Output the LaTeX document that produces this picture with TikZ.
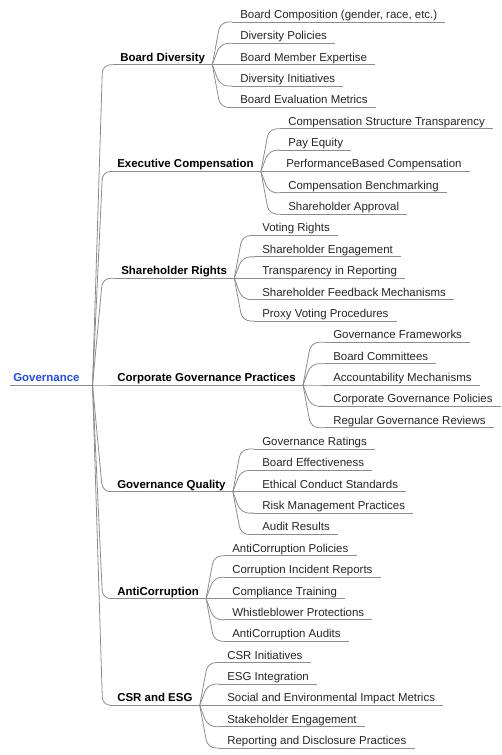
\documentclass[tikz,border=0pt]{standalone}
\usepackage{fontspec}
\setmainfont{Liberation Sans}
\usepackage{tikz}

\definecolor{rootblue}{RGB}{30,75,255}
\definecolor{linegray}{RGB}{140,140,140}

\begin{document}
\begin{tikzpicture}[
    x=0.75pt, y=-0.75pt,
    branch/.style={draw=linegray, line width=0.6pt, rounded corners=6pt},
    topic/.style={anchor=south west, inner xsep=6pt, inner ysep=0.45pt, text height=0.72em, text depth=0.2em, font=\fontsize{8.6}{10}\selectfont, text=black!85,
        append after command={(\tikzlastnode.south west) edge[branch] (\tikzlastnode.south east)}},
    maintopic/.style={topic, inner xsep=5.25pt, font=\fontsize{8.6}{10}\selectfont\bfseries, text=black}
]
\useasboundingbox (0,0) rectangle (501,755);

% root
\node[topic, inner xsep=2.25pt, text width=57pt, align=left, font=\fontsize{8.6}{10}\selectfont\bfseries, text=rootblue] (gov) at (10,385) {Governance};
\coordinate (govk) at ([xshift=7.5pt]gov.south east);

% main topics
\node[maintopic] (bd) at (113,64.71) {Board Diversity};
\node[maintopic] (ec) at (110,171.47) {Executive Compensation};
\node[maintopic] (sr) at (114,278.24) {Shareholder Rights};
\node[maintopic] (cgp) at (110,385.0) {Corporate Governance Practices};
\node[maintopic] (gq) at (110,491.76) {Governance Quality};
\node[maintopic] (ac) at (110,598.53) {AntiCorruption};
\node[maintopic] (csr) at (110,705.29) {CSR and ESG};

\coordinate (bdk) at ([xshift=6pt]bd.south east);
\coordinate (eck) at ([xshift=6pt]ec.south east);
\coordinate (srk) at ([xshift=6pt]sr.south east);
\coordinate (cgpk) at ([xshift=6pt]cgp.south east);
\coordinate (gqk) at ([xshift=6pt]gq.south east);
\coordinate (ack) at ([xshift=6pt]ac.south east);
\coordinate (csrk) at ([xshift=6pt]csr.south east);

% Board Diversity
\node[topic] (bd1) at (232,22.0) {Board Composition (gender, race, etc.)};
\node[topic] (bd2) at (232,43.35) {Diversity Policies};
\node[topic] (bd3) at (232,64.71) {Board Member Expertise};
\node[topic] (bd4) at (232,86.06) {Diversity Initiatives};
\node[topic] (bd5) at (232,107.41) {Board Evaluation Metrics};

% Executive Compensation
\node[topic] (ec1) at (280,128.76) {Compensation Structure Transparency};
\node[topic] (ec2) at (280,150.12) {Pay Equity};
\node[topic] (ec3) at (278,171.47) {PerformanceBased Compensation};
\node[topic] (ec4) at (280,192.82) {Compensation Benchmarking};
\node[topic] (ec5) at (280,214.18) {Shareholder Approval};

% Shareholder Rights
\node[topic] (sr1) at (254,235.53) {Voting Rights};
\node[topic] (sr2) at (254,256.88) {Shareholder Engagement};
\node[topic] (sr3) at (254,278.24) {Transparency in Reporting};
\node[topic] (sr4) at (254,299.59) {Shareholder Feedback Mechanisms};
\node[topic] (sr5) at (254,320.94) {Proxy Voting Procedures};

% Corporate Governance Practices
\node[topic] (cgp1) at (325,342.29) {Governance Frameworks};
\node[topic] (cgp2) at (325,363.65) {Board Committees};
\node[topic] (cgp3) at (325,385.0) {Accountability Mechanisms};
\node[topic] (cgp4) at (325,406.35) {Corporate Governance Policies};
\node[topic] (cgp5) at (325,427.71) {Regular Governance Reviews};

% Governance Quality
\node[topic] (gq1) at (254,449.06) {Governance Ratings};
\node[topic] (gq2) at (254,470.41) {Board Effectiveness};
\node[topic] (gq3) at (254,491.76) {Ethical Conduct Standards};
\node[topic] (gq4) at (254,513.12) {Risk Management Practices};
\node[topic] (gq5) at (254,534.47) {Audit Results};

% AntiCorruption
\node[topic] (ac1) at (224,555.82) {AntiCorruption Policies};
\node[topic] (ac2) at (224,577.18) {Corruption Incident Reports};
\node[topic] (ac3) at (224,598.53) {Compliance Training};
\node[topic] (ac4) at (224,619.88) {Whistleblower Protections};
\node[topic] (ac5) at (224,641.24) {AntiCorruption Audits};

% CSR and ESG
\node[topic] (csr1) at (219,662.59) {CSR Initiatives};
\node[topic] (csr2) at (219,683.94) {ESG Integration};
\node[topic] (csr3) at (219,705.29) {Social and Environmental Impact Metrics};
\node[topic] (csr4) at (219,726.65) {Stakeholder Engagement};
\node[topic] (csr5) at (219,748.0) {Reporting and Disclosure Practices};

% trunk
\draw[branch] (gov.south east) -- (govk |- bd.south west) -- (bd.south west);
\draw[branch] (gov.south east) -- (govk |- ec.south west) -- (ec.south west);
\draw[branch] (gov.south east) -- (govk |- sr.south west) -- (sr.south west);
\draw[branch] (gov.south east) -- (govk |- cgp.south west) -- (cgp.south west);
\draw[branch] (gov.south east) -- (govk |- gq.south west) -- (gq.south west);
\draw[branch] (gov.south east) -- (govk |- ac.south west) -- (ac.south west);
\draw[branch] (gov.south east) -- (govk |- csr.south west) -- (csr.south west);

% branches
\draw[branch] (bd.south east) -- (bdk |- bd1.south west) -- (bd1.south west);
\draw[branch] (bd.south east) -- (bdk |- bd2.south west) -- (bd2.south west);
\draw[branch] (bd.south east) -- (bdk |- bd3.south west) -- (bd3.south west);
\draw[branch] (bd.south east) -- (bdk |- bd4.south west) -- (bd4.south west);
\draw[branch] (bd.south east) -- (bdk |- bd5.south west) -- (bd5.south west);

\draw[branch] (ec.south east) -- (eck |- ec1.south west) -- (ec1.south west);
\draw[branch] (ec.south east) -- (eck |- ec2.south west) -- (ec2.south west);
\draw[branch] (ec.south east) -- (eck |- ec3.south west) -- (ec3.south west);
\draw[branch] (ec.south east) -- (eck |- ec4.south west) -- (ec4.south west);
\draw[branch] (ec.south east) -- (eck |- ec5.south west) -- (ec5.south west);

\draw[branch] (sr.south east) -- (srk |- sr1.south west) -- (sr1.south west);
\draw[branch] (sr.south east) -- (srk |- sr2.south west) -- (sr2.south west);
\draw[branch] (sr.south east) -- (srk |- sr3.south west) -- (sr3.south west);
\draw[branch] (sr.south east) -- (srk |- sr4.south west) -- (sr4.south west);
\draw[branch] (sr.south east) -- (srk |- sr5.south west) -- (sr5.south west);

\draw[branch] (cgp.south east) -- (cgpk |- cgp1.south west) -- (cgp1.south west);
\draw[branch] (cgp.south east) -- (cgpk |- cgp2.south west) -- (cgp2.south west);
\draw[branch] (cgp.south east) -- (cgpk |- cgp3.south west) -- (cgp3.south west);
\draw[branch] (cgp.south east) -- (cgpk |- cgp4.south west) -- (cgp4.south west);
\draw[branch] (cgp.south east) -- (cgpk |- cgp5.south west) -- (cgp5.south west);

\draw[branch] (gq.south east) -- (gqk |- gq1.south west) -- (gq1.south west);
\draw[branch] (gq.south east) -- (gqk |- gq2.south west) -- (gq2.south west);
\draw[branch] (gq.south east) -- (gqk |- gq3.south west) -- (gq3.south west);
\draw[branch] (gq.south east) -- (gqk |- gq4.south west) -- (gq4.south west);
\draw[branch] (gq.south east) -- (gqk |- gq5.south west) -- (gq5.south west);

\draw[branch] (ac.south east) -- (ack |- ac1.south west) -- (ac1.south west);
\draw[branch] (ac.south east) -- (ack |- ac2.south west) -- (ac2.south west);
\draw[branch] (ac.south east) -- (ack |- ac3.south west) -- (ac3.south west);
\draw[branch] (ac.south east) -- (ack |- ac4.south west) -- (ac4.south west);
\draw[branch] (ac.south east) -- (ack |- ac5.south west) -- (ac5.south west);

\draw[branch] (csr.south east) -- (csrk |- csr1.south west) -- (csr1.south west);
\draw[branch] (csr.south east) -- (csrk |- csr2.south west) -- (csr2.south west);
\draw[branch] (csr.south east) -- (csrk |- csr3.south west) -- (csr3.south west);
\draw[branch] (csr.south east) -- (csrk |- csr4.south west) -- (csr4.south west);
\draw[branch] (csr.south east) -- (csrk |- csr5.south west) -- (csr5.south west);
\end{tikzpicture}
\end{document}
